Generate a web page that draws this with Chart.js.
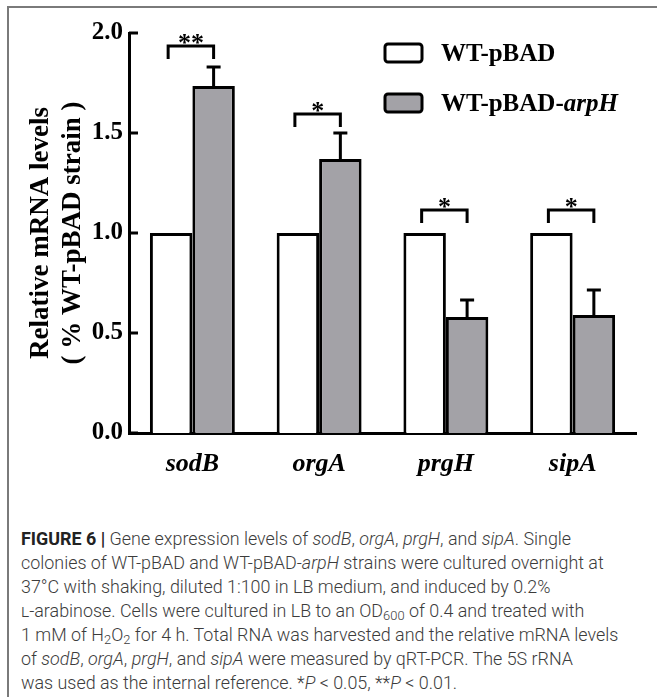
<!DOCTYPE html>
<html>
<head>
<meta charset="utf-8">
<script src="https://cdn.jsdelivr.net/npm/chart.js@4.4.1/dist/chart.umd.min.js"></script>
<style>
  html, body { margin: 0; padding: 0; background: #fff; }
  body { width: 657px; height: 697px; position: relative; overflow: hidden; }
  #frame {
    position: absolute; left: 7px; top: 6px; right: -2px; bottom: -2px;
    border-left: 2px solid #7a7a7a; border-top: 2px solid #7a7a7a;
  }
  #myChart { position: absolute; left: 0; top: 0; }
  #caption {
    position: absolute; left: 21px; top: 527px;
    font-family: "Roboto", "Liberation Sans", sans-serif; font-weight: 300;
    font-size: 17.9px; line-height: 24px; color: #3c3c3c; white-space: nowrap;
  }
  #caption b { font-weight: 700; color: #222; }
  #caption sub { font-size: 0.72em; line-height: 0; vertical-align: -0.25em; }
  #caption .sc { font-variant: small-caps; }
</style>
</head>
<body>
<div id="frame"></div>
<canvas id="myChart" width="657" height="500"></canvas>
<div id="caption">
<b>FIGURE 6 |</b> Gene expression levels of <i>sodB</i>, <i>orgA</i>, <i>prgH</i>, and <i>sipA</i>. Single<br>
colonies of WT-pBAD and WT-pBAD-<i>arpH</i> strains were cultured overnight at<br>
37°C with shaking, diluted 1:100 in LB medium, and induced by 0.2%<br>
<span class="sc">l</span>-arabinose. Cells were cultured in LB to an OD<sub>600</sub> of 0.4 and treated with<br>
1 mM of H<sub>2</sub>O<sub>2</sub> for 4 h. Total RNA was harvested and the relative mRNA levels<br>
of <i>sodB</i>, <i>orgA</i>, <i>prgH</i>, and <i>sipA</i> were measured by qRT-PCR. The 5S rRNA<br>
was used as the internal reference. *<i>P</i> &lt; 0.05, **<i>P</i> &lt; 0.01.
</div>
<script>
// Datos
const genes = ['sodB', 'orgA', 'prgH', 'sipA'];
const wtValues = [1.0, 1.0, 1.0, 1.0];
const arpHValues = [1.735, 1.37, 0.58, 0.59];
const arpHErrors = [0.095, 0.13, 0.085, 0.125];
const bracketLevels = [1.935, 1.595, 1.115, 1.115];
const stars = ['**', '*', '*', '*'];
const yTicks = [0, 0.5, 1.0, 1.5, 2.0];
const seriesNames = ['WT-pBAD', 'WT-pBAD-'];

const serif = '"Liberation Serif", "Times New Roman", serif';

// Marcas del eje, barras de error, corchetes y leyenda
const extrasPlugin = {
    id: 'extras',
    afterDraw(chart) {
        const ctx = chart.ctx;
        const y = chart.scales.y;
        const white = chart.getDatasetMeta(0);
        const gray = chart.getDatasetMeta(1);
        const left = chart.chartArea.left;

        ctx.save();
        ctx.strokeStyle = '#000';
        ctx.fillStyle = '#000';
        ctx.lineWidth = 3;

        // ticks hacia dentro
        yTicks.forEach(v => {
            const py = y.getPixelForValue(v);
            ctx.beginPath();
            ctx.moveTo(left, py);
            ctx.lineTo(left + 9, py);
            ctx.stroke();
        });

        // barras de error
        gray.data.forEach((bar, i) => {
            const top = y.getPixelForValue(arpHValues[i] + arpHErrors[i]);
            ctx.beginPath();
            ctx.moveTo(bar.x, bar.y);
            ctx.lineTo(bar.x, top);
            ctx.moveTo(bar.x - 7, top);
            ctx.lineTo(bar.x + 7, top);
            ctx.stroke();
        });

        // corchetes de significancia
        ctx.font = 'bold 26px ' + serif;
        ctx.textAlign = 'center';
        ctx.textBaseline = 'alphabetic';
        white.data.forEach((bar, i) => {
            const x1 = bar.x - 3;
            const x2 = gray.data[i].x;
            const top = y.getPixelForValue(bracketLevels[i]);
            ctx.beginPath();
            ctx.moveTo(x1, top + 13);
            ctx.lineTo(x1, top);
            ctx.lineTo(x2, top);
            ctx.lineTo(x2, top + 13);
            ctx.stroke();
            ctx.fillText(stars[i], (x1 + x2) / 2, top + 5);
        });

        // leyenda
        const fills = chart.data.datasets.map(d => d.backgroundColor);
        const rows = [53, 103];
        rows.forEach((cy, i) => {
            ctx.beginPath();
            ctx.roundRect(385, cy - 9, 37, 18, 3);
            ctx.fillStyle = fills[i];
            ctx.fill();
            ctx.stroke();
            ctx.fillStyle = '#000';
            ctx.textAlign = 'left';
            ctx.textBaseline = 'middle';
            ctx.font = 'bold 25px ' + serif;
            ctx.fillText(seriesNames[i], 441, cy + 2);
            if (i === 1) {
                const w = ctx.measureText(seriesNames[i]).width;
                ctx.font = 'italic bold 25px ' + serif;
                ctx.fillText('arpH', 441 + w, cy + 2);
            }
        });
        ctx.restore();
    }
};

const crearGrafico = () => {
    const ctx = document.getElementById('myChart').getContext('2d');
    new Chart(ctx, {
        type: 'bar',
        data: {
            labels: genes,
            datasets: [{
                label: seriesNames[0],
                data: wtValues,
                backgroundColor: '#ffffff',
                borderColor: '#000000',
                borderWidth: 3,
                categoryPercentage: 0.67,
                barPercentage: 1.0
            }, {
                label: seriesNames[1] + 'arpH',
                data: arpHValues,
                backgroundColor: '#a3a2a7',
                borderColor: '#000000',
                borderWidth: 3,
                categoryPercentage: 0.67,
                barPercentage: 1.0
            }]
        },
        options: {
            responsive: false,
            animation: false,
            devicePixelRatio: 1,
            layout: { padding: { left: 0, top: 33, right: 21, bottom: 0 } },
            plugins: {
                legend: { display: false },
                tooltip: { enabled: false }
            },
            scales: {
                x: {
                    grid: { display: false, drawTicks: false },
                    border: { display: true, color: '#000', width: 3 },
                    ticks: {
                        color: '#000',
                        padding: 16,
                        font: { family: serif, size: 26, weight: 'bold', style: 'italic' }
                    },
                    afterFit: scale => { scale.height = 67; }
                },
                y: {
                    min: 0,
                    max: 2,
                    grid: { display: false, drawTicks: false },
                    border: { display: true, color: '#000', width: 3 },
                    afterBuildTicks: scale => { scale.ticks = yTicks.map(v => ({ value: v })); },
                    ticks: {
                        color: '#000',
                        padding: 6,
                        font: { family: serif, size: 25, weight: 'bold' },
                        callback: v => v.toFixed(1)
                    },
                    title: {
                        display: true,
                        text: ['Relative mRNA levels', '( % WT-pBAD strain )'],
                        color: '#000',
                        padding: { top: 26, bottom: 0 },
                        font: { family: serif, size: 27, weight: 'bold', lineHeight: 1.15 }
                    },
                    afterFit: scale => { scale.width = 129; }
                }
            }
        },
        plugins: [extrasPlugin]
    });
};

document.addEventListener('DOMContentLoaded', function () {
    crearGrafico();
});
</script>
</body>
</html>
